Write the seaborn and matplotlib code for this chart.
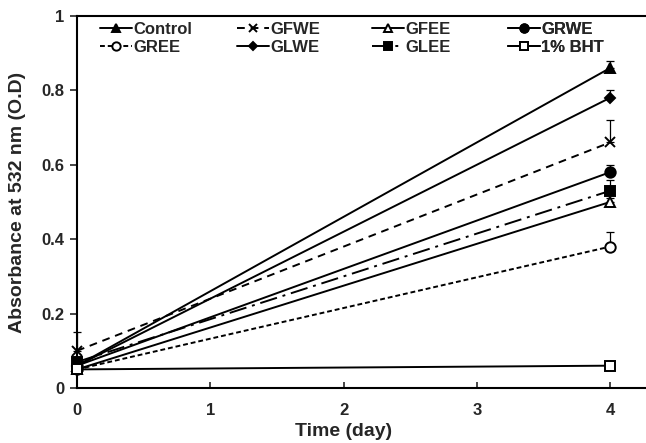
import matplotlib
matplotlib.use('Agg')
import matplotlib.pyplot as plt
import seaborn as sns
import pandas as pd

# --- data ---
days = [0, 4]
samples = ['Control', 'GREE', 'GFWE', 'GLWE', 'GFEE', 'GLEE', 'GRWE', '1% BHT']
values = {
    'Control': [0.06, 0.86],
    'GFWE': [0.10, 0.66],
    'GFEE': [0.05, 0.50],
    'GRWE': [0.06, 0.58],
    'GREE': [0.05, 0.38],
    'GLWE': [0.06, 0.78],
    'GLEE': [0.07, 0.53],
    '1% BHT': [0.05, 0.06],
}
errors = {
    'Control': [0.0, 0.02],
    'GFWE': [0.05, 0.06],
    'GFEE': [0.0, 0.01],
    'GRWE': [0.0, 0.02],
    'GREE': [0.0, 0.04],
    'GLWE': [0.0, 0.02],
    'GLEE': [0.0, 0.03],
    '1% BHT': [0.0, 0.0],
}

# line / marker style per sample
styles = {
    'Control': dict(marker='^', mfc='black', ls='-'),
    'GFWE': dict(marker='x', mfc='black', ls=(0, (4, 3))),
    'GFEE': dict(marker='^', mfc='white', ls='-'),
    'GRWE': dict(marker='o', mfc='black', ls='-'),
    'GREE': dict(marker='o', mfc='white', ls=(0, (2.5, 1.5))),
    'GLWE': dict(marker='D', mfc='black', ls='-'),
    'GLEE': dict(marker='s', mfc='black', ls=(0, (9, 3, 1.5, 3))),
    '1% BHT': dict(marker='s', mfc='white', ls='-'),
}

df = pd.DataFrame([
    {'day': d, 'absorbance': values[s][i], 'err': errors[s][i], 'sample': s}
    for s in samples for i, d in enumerate(days)
])

sns.set_style('ticks')
plt.rcParams['font.family'] = ['Liberation Sans', 'DejaVu Sans']
plt.rcParams['font.weight'] = 'bold'

fig = plt.figure(figsize=(6.46, 4.43), dpi=100)
ax = fig.add_axes([77 / 646, 55 / 443, 569 / 646, 372 / 443])

for s in samples:
    sub = df[df['sample'] == s]
    st = styles[s]
    ms = 7.5 if st['marker'] in ('o', 's') else 7
    if st['marker'] == 'D':
        ms = 5.5
    # error bars (upward only)
    ax.errorbar(sub['day'], sub['absorbance'], yerr=[[0] * len(sub), sub['err']],
                fmt='none', ecolor='black', elinewidth=0.9, capsize=3, capthick=0.9,
                clip_on=False, zorder=2)
    sns.lineplot(data=sub, x='day', y='absorbance', ax=ax, color='black',
                 linewidth=1.4, linestyle=st['ls'], marker=st['marker'],
                 markersize=ms, markerfacecolor=st['mfc'], markeredgecolor='black',
                 markeredgewidth=1.4, label=s, clip_on=False, zorder=3)

ax.set_xlim(0, 4.27)
ax.set_ylim(0, 1)
ax.set_xticks([0, 1, 2, 3, 4])
ax.set_yticks([0, 0.2, 0.4, 0.6, 0.8, 1.0])
ax.set_yticklabels(['0', '0.2', '0.4', '0.6', '0.8', '1'])
ax.tick_params(axis='x', direction='in', length=4, width=1.2, labelsize=12, pad=11)
ax.tick_params(axis='y', direction='out', length=5, width=1.2, labelsize=12, pad=4)
for side in ['left', 'bottom', 'top']:
    ax.spines[side].set_linewidth(1.5)
    ax.spines[side].set_color('black')
ax.spines['right'].set_visible(False)

ax.set_xlabel('Time (day)', fontsize=14, fontweight='bold')
ax.set_ylabel('Absorbance at 532 nm (O.D)', fontsize=14, fontweight='bold')
ax.xaxis.set_label_coords(2 / 4.27, -0.095)
ax.yaxis.label.set_verticalalignment('center')
ax.yaxis.set_label_coords(-0.104, 0.5)

# legend laid out as 4 fixed-position columns of 2 entries
handles, labels = ax.get_legend_handles_labels()
if ax.get_legend() is not None:
    ax.get_legend().remove()
col_x = [100, 237, 372, 508]
for c, x in enumerate(col_x):
    leg = ax.legend(handles[2 * c:2 * c + 2], labels[2 * c:2 * c + 2], loc='upper left',
                    bbox_to_anchor=((x - 77) / 569, 0.985), frameon=False, fontsize=12,
                    handlelength=1.9, handletextpad=0.1, labelspacing=0.2,
                    borderpad=0, borderaxespad=0, markerscale=0.8)
    ax.add_artist(leg)

plt.savefig('out.png', dpi=100)
